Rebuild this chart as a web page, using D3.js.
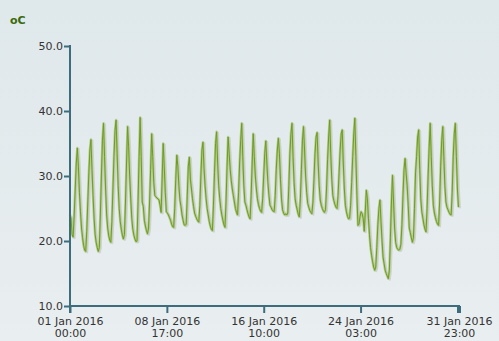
<!DOCTYPE html>
<html>
<head>
<meta charset="utf-8">
<script src="https://cdn.jsdelivr.net/npm/d3@7"></script>
<style>
  html, body { margin: 0; padding: 0; }
  body { width: 499px; height: 341px; overflow: hidden; }
  text { font-family: "DejaVu Sans", Verdana, sans-serif; }
</style>
</head>
<body>
<div id="chart"></div>
<script>
// hourly temperature, sampled every 2 hours (00,02,...,22) for each day of Jan 2016
var temps = [
  24.0, 23.5, 21.0, 20.6, 24.0, 28.0, 32.0, 34.3, 31.5, 27.5, 24.5, 22.0,   // 01
  20.5, 19.3, 18.6, 18.4, 21.5, 26.0, 30.5, 34.0, 35.6, 31.0, 27.0, 23.5,   // 02
  21.0, 19.8, 19.0, 18.4, 19.0, 24.0, 30.0, 35.5, 38.1, 33.0, 28.0, 24.0,   // 03
  22.0, 20.8, 20.1, 19.8, 23.0, 28.0, 33.0, 37.0, 38.6, 33.5, 28.5, 25.0,   // 04
  23.0, 21.8, 20.9, 20.3, 21.0, 26.0, 32.0, 37.6, 34.5, 30.0, 26.5, 23.5,   // 05
  21.8, 20.9, 20.3, 19.9, 20.0, 26.0, 33.0, 39.0, 33.0, 26.0, 25.3, 23.2,   // 06
  22.3, 21.6, 21.1, 22.0, 26.0, 31.0, 36.5, 33.0, 29.0, 27.0, 26.8, 26.6,   // 07
  26.5, 26.3, 25.5, 24.4, 29.5, 35.0, 31.5, 27.5, 24.5, 24.3, 24.0, 23.6,   // 08
  23.2, 22.6, 22.2, 22.1, 25.0, 29.5, 33.2, 31.5, 28.5, 26.3, 25.3, 24.0,   // 09
  23.2, 22.5, 22.4, 22.6, 27.0, 31.5, 32.9, 29.5, 28.0, 26.5, 25.3, 24.3,   // 10
  23.8, 23.4, 23.1, 22.9, 25.5, 30.0, 34.0, 35.2, 31.2, 28.5, 26.5, 25.0,   // 11
  24.0, 23.0, 22.3, 21.8, 21.6, 25.5, 30.5, 35.0, 36.8, 32.0, 28.5, 26.5,   // 12
  25.0, 24.0, 23.2, 22.5, 22.1, 26.0, 31.5, 36.0, 33.5, 31.0, 29.3, 28.0,   // 13
  27.0, 26.0, 25.0, 24.4, 24.0, 27.5, 32.0, 35.5, 38.1, 33.0, 28.5, 26.0,   // 14
  25.5, 24.8, 24.2, 23.7, 23.4, 27.0, 32.0, 36.5, 33.0, 30.0, 28.0, 26.5,   // 15
  25.6, 25.0, 24.6, 24.4, 26.5, 30.0, 33.5, 35.4, 32.0, 29.0, 27.0, 25.5,   // 16
  25.2, 24.8, 24.6, 24.5, 27.0, 31.0, 34.0, 35.8, 33.5, 29.5, 26.5, 24.8,   // 17
  24.3, 24.0, 24.2, 24.0, 24.3, 28.5, 33.5, 36.5, 38.1, 33.0, 29.0, 26.5,   // 18
  25.5, 24.8, 24.1, 23.7, 26.5, 31.0, 35.5, 37.6, 34.0, 30.0, 27.5, 25.8,   // 19
  25.2, 24.7, 24.4, 24.2, 26.0, 29.5, 33.5, 36.0, 36.7, 32.0, 28.5, 26.3,   // 20
  25.5, 25.0, 24.6, 24.4, 24.8, 28.0, 32.5, 36.0, 38.6, 33.5, 29.5, 27.0,   // 21
  26.2, 25.6, 25.2, 25.0, 27.0, 30.5, 34.0, 36.5, 37.1, 32.0, 28.0, 25.5,   // 22
  24.5, 23.8, 23.4, 23.5, 25.5, 29.0, 33.0, 36.5, 38.9, 33.0, 27.0, 22.4,   // 23
  22.6, 23.8, 24.5, 24.2, 23.5, 21.5, 24.5, 27.8, 26.5, 23.5, 21.0, 19.0,   // 24
  17.8, 16.8, 16.0, 15.5, 16.0, 19.0, 22.5, 25.0, 26.3, 23.0, 20.0, 17.5,   // 25
  16.5, 15.5, 15.0, 14.6, 14.2, 15.5, 20.5, 26.0, 30.1, 26.0, 22.0, 19.8,   // 26
  19.0, 18.7, 18.6, 18.7, 19.5, 22.5, 27.0, 31.0, 32.7, 30.5, 28.5, 25.5,   // 27
  22.0, 21.3, 20.5, 19.8, 20.5, 25.0, 30.5, 33.0, 36.0, 37.1, 31.0, 26.5,   // 28
  24.5, 23.5, 22.5, 21.8, 21.4, 25.0, 30.0, 34.5, 38.1, 33.0, 28.5, 25.5,   // 29
  24.3, 23.6, 23.0, 22.6, 22.4, 26.0, 31.5, 35.5, 37.6, 33.0, 28.5, 26.0,   // 30
  25.2, 24.8, 24.4, 24.1, 24.0, 27.5, 33.0, 36.5, 38.1, 33.0, 28.0, 25.2    // 31
];
var stepHours = 2;
var totalHours = 743;                 // 01 Jan 00:00 .. 31 Jan 23:00
var xTickHours = [0, 185, 370, 555, 743];
var yTicks = [10, 20, 30, 40, 50];
var unitLabel = "oC";

var width = 499, height = 341;
var start = Date.UTC(2016, 0, 1, 0, 0);
var fmtDate = d3.utcFormat("%d %b %Y");
var fmtTime = d3.utcFormat("%H:%M");
function hourToDate(h){ return new Date(start + h * 3600000); }

var svg = d3.select("#chart").append("svg")
    .attr("width", width)
    .attr("height", height);

var defs = svg.append("defs");
var grad = defs.append("linearGradient")
    .attr("id", "bg")
    .attr("x1", 0).attr("y1", 0).attr("x2", 0).attr("y2", 1);
grad.append("stop").attr("offset", "0%").attr("stop-color", "#dfe8eb");
grad.append("stop").attr("offset", "100%").attr("stop-color", "#e9eef0");

svg.append("rect")
    .attr("width", width)
    .attr("height", height)
    .attr("fill", "url(#bg)");

var x = d3.scaleUtc()
    .domain([hourToDate(0), hourToDate(totalHours)])
    .range([70, 459]);

var y = d3.scaleLinear()
    .domain([10, 50])
    .range([306, 46]);

var points = temps.map(function(v, i){ return { t: hourToDate(i * stepHours), v: v }; });

var line = d3.line()
    .x(function(d){ return x(d.t); })
    .y(function(d){ return y(d.v); });

var plot = svg.append("g");

// shadow, light band, then the core line
plot.append("path")
    .datum(points)
    .attr("d", line)
    .attr("transform", "translate(1.5,1)")
    .attr("fill", "none")
    .attr("stroke", "#c3c8c8")
    .attr("stroke-opacity", 0.7)
    .attr("stroke-width", 2)
    .attr("stroke-linejoin", "round");

plot.append("path")
    .datum(points)
    .attr("d", line)
    .attr("fill", "none")
    .attr("stroke", "#b3cb8c")
    .attr("stroke-width", 2.5)
    .attr("stroke-linejoin", "round");

plot.append("path")
    .datum(points)
    .attr("d", line)
    .attr("fill", "none")
    .attr("stroke", "#6e9c22")
    .attr("stroke-width", 1)
    .attr("stroke-linejoin", "round");

var axisColor = "#3d6c7c";

// y axis
var yAxis = svg.append("g")
    .attr("transform", "translate(70,0)")
    .call(d3.axisLeft(y)
        .tickValues(yTicks)
        .tickSize(6)
        .tickSizeOuter(0)
        .tickPadding(1)
        .tickFormat(d3.format(".1f")));

yAxis.select(".domain").remove();
yAxis.selectAll(".tick line").attr("stroke", axisColor).attr("stroke-width", 2);
yAxis.selectAll(".tick text")
    .attr("fill", "#333")
    .style("font-size", "11px");

svg.append("line")
    .attr("x1", 70).attr("x2", 70)
    .attr("y1", y(50) - 1).attr("y2", 313)
    .attr("stroke", axisColor)
    .attr("stroke-width", 2);

// x axis
var xAxis = svg.append("g")
    .attr("transform", "translate(0," + y(10) + ")")
    .call(d3.axisBottom(x)
        .tickValues(xTickHours.map(hourToDate))
        .tickSize(7)
        .tickSizeOuter(0)
        .tickFormat(""));

xAxis.select(".domain").remove();
xAxis.selectAll(".tick line").attr("stroke", axisColor).attr("stroke-width", 2);

svg.append("line")
    .attr("x1", 69).attr("x2", 460)
    .attr("y1", y(10)).attr("y2", y(10))
    .attr("stroke", axisColor)
    .attr("stroke-width", 2);

svg.append("rect")
    .attr("x", x(hourToDate(totalHours)) - 2)
    .attr("y", y(10))
    .attr("width", 4)
    .attr("height", 7)
    .attr("fill", axisColor);

var xl = xAxis.selectAll(".tick").append("text")
    .attr("fill", "#333")
    .attr("text-anchor", "middle")
    .style("font-size", "11px");
xl.append("tspan").attr("x", 0).attr("y", 19).text(function(d){ return fmtDate(d); });
xl.append("tspan").attr("x", 0).attr("y", 31).text(function(d){ return fmtTime(d); });

// unit title
svg.append("text")
    .attr("x", 10)
    .attr("y", 24)
    .attr("fill", "#3b6a0c")
    .style("font-size", "11px")
    .style("font-weight", "bold")
    .text(unitLabel);
</script>
</body>
</html>
